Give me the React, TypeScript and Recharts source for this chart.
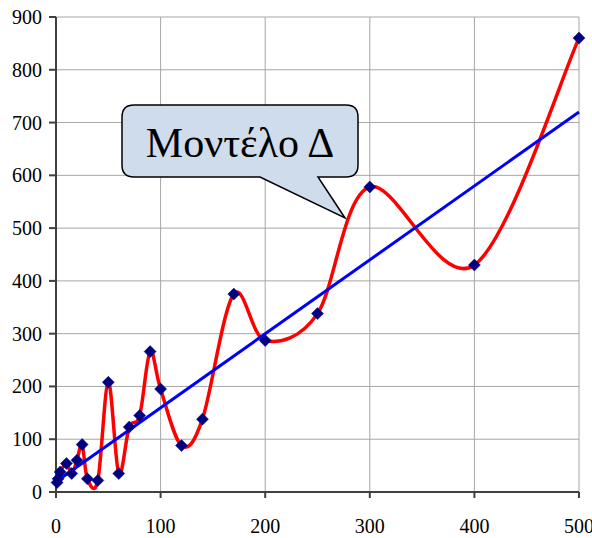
import { LineChart, Line, XAxis, YAxis, CartesianGrid } from "recharts";

// Model Δ observations (x, value)
const xValues = [1, 2, 4, 10, 15, 20, 25, 30, 40, 50, 60, 70, 80, 90, 100, 120, 140, 170, 200, 250, 300, 400, 500];
const modelValues = [18, 25, 38, 54, 35, 60, 90, 25, 22, 208, 35, 123, 145, 266, 195, 88, 138, 375, 287, 338, 578, 430, 860];

// linear trend line end points
const trendX = [1, 500];
const trendY = [21, 720];

const xTicks = [0, 100, 200, 300, 400, 500];
const yTicks = [0, 100, 200, 300, 400, 500, 600, 700, 800, 900];

const calloutText = "Μοντέλο Δ";

const FONT = "Liberation Serif";
const AXIS_COLOR = "#404040";
const GRID_COLOR = "#a6a6a6";

const modelData = xValues.map((x, i) => ({ x, y: modelValues[i] }));
const trendData = trendX.map((x, i) => ({ x, y: trendY[i] }));

// Excel-style smoothed line: Bezier with control points at ±(P[i+1]-P[i-1])/6
const excelSmooth = (context: any) => {
  let pts: number[][] = [];
  return {
    areaStart() {},
    areaEnd() {},
    lineStart() {
      pts = [];
    },
    point(x: number, y: number) {
      pts.push([+x, +y]);
    },
    lineEnd() {
      if (!pts.length) return;
      context.moveTo(pts[0][0], pts[0][1]);
      for (let i = 0; i < pts.length - 1; i++) {
        const p0 = pts[Math.max(i - 1, 0)];
        const p1 = pts[i];
        const p2 = pts[i + 1];
        const p3 = pts[Math.min(i + 2, pts.length - 1)];
        context.bezierCurveTo(
          p1[0] + (p2[0] - p0[0]) / 6,
          p1[1] + (p2[1] - p0[1]) / 6,
          p2[0] - (p3[0] - p1[0]) / 6,
          p2[1] - (p3[1] - p1[1]) / 6,
          p2[0],
          p2[1]
        );
      }
    },
  };
};

const renderDiamond = (props: any) => {
  const { cx, cy, index } = props;
  const r = 6;
  return (
    <polygon
      key={`d-${index}`}
      points={`${cx},${cy - r} ${cx + r},${cy} ${cx},${cy + r} ${cx - r},${cy}`}
      fill="#000080"
      stroke="#000080"
      strokeWidth={0.5}
    />
  );
};

const renderXTick = (props: any) => (
  <text
    key={`xt-${props.index}`}
    x={props.x}
    y={props.y + 35}
    textAnchor="middle"
    fontFamily={FONT}
    fontSize={20}
    fill="#000"
  >
    {props.payload.value}
  </text>
);

const renderYTick = (props: any) => (
  <text
    key={`yt-${props.index}`}
    x={props.x}
    y={props.y + 7}
    textAnchor="end"
    fontFamily={FONT}
    fontSize={20}
    fill="#000"
  >
    {props.payload.value}
  </text>
);

function Callout() {
  return (
    <svg
      width={592}
      height={538}
      style={{ position: "absolute", left: 0, top: 0, pointerEvents: "none" }}
    >
      <path
        d="M134,105 H346 Q358,105 358,117 V165 Q358,177 346,177 H318 L345,218 L260,177 H134 Q122,177 122,165 V117 Q122,105 134,105 Z"
        fill="#cfdcec"
        stroke="#000"
        strokeWidth={1.5}
      />
      <text x={240} y={157} textAnchor="middle" fontFamily={FONT} fontSize={42} fill="#000">
        {calloutText}
      </text>
    </svg>
  );
}

export default function App() {
  return (
    <div style={{ position: "absolute", left: 0, top: 0, width: 592, height: 538, background: "#fff" }}>
      <LineChart width={592} height={538} margin={{ top: 17, right: 13, left: 0, bottom: 0 }}>
        <CartesianGrid stroke={GRID_COLOR} strokeWidth={1} horizontalValues={yTicks} verticalValues={xTicks} />
        <XAxis
          type="number"
          dataKey="x"
          domain={[0, 500]}
          ticks={xTicks}
          height={46}
          tick={renderXTick}
          tickSize={6}
          tickMargin={0}
          axisLine={{ stroke: AXIS_COLOR, strokeWidth: 2 }}
          tickLine={{ stroke: AXIS_COLOR, strokeWidth: 2 }}
          interval={0}
        />
        <YAxis
          type="number"
          domain={[0, 900]}
          ticks={yTicks}
          width={56}
          tick={renderYTick}
          tickSize={7}
          tickMargin={7}
          axisLine={{ stroke: AXIS_COLOR, strokeWidth: 2 }}
          tickLine={{ stroke: AXIS_COLOR, strokeWidth: 2 }}
          interval={0}
        />
        <Line
          data={modelData}
          dataKey="y"
          type={excelSmooth as any}
          stroke="#ff0000"
          strokeWidth={3.5}
          dot={false}
          activeDot={false}
          isAnimationActive={false}
        />
        <Line
          data={trendData}
          dataKey="y"
          type="linear"
          stroke="#0000ff"
          strokeWidth={3}
          dot={false}
          activeDot={false}
          isAnimationActive={false}
        />
        <Line
          data={modelData}
          dataKey="y"
          stroke="none"
          dot={renderDiamond}
          activeDot={false}
          isAnimationActive={false}
        />
      </LineChart>
      <Callout />
    </div>
  );
}
